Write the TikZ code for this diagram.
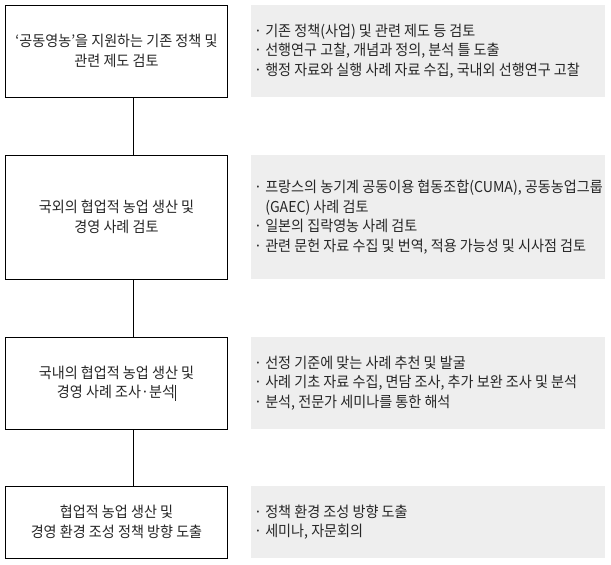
\documentclass[tikz,border=0pt]{standalone}
\usepackage{fontspec}
\setmainfont{Noto Sans CJK KR}[FakeStretch=0.94]
\definecolor{txt}{HTML}{262626}
\definecolor{grayfill}{HTML}{EEEEEE}
\tikzset{
  stepbox/.style={draw=black, line width=1pt, fill=white, minimum width=222.5pt, inner sep=0pt, align=center, text=txt, font=\fontsize{15}{19.5}\selectfont},
  graybox/.style={fill=grayfill, draw=none, minimum width=354pt, inner sep=0pt, anchor=north west},
  graytext/.style={anchor=west, align=left, inner sep=0pt, text=txt, font=\fontsize{15}{19.5}\selectfont},
  link/.style={draw=black, line width=1pt}
}
\begin{document}
\begin{tikzpicture}[x=1pt,y=-1pt]
\useasboundingbox (0,0) rectangle (611,565);
% step boxes
\node[stepbox, minimum height=92pt]  (b1) at (116.5,51)  {‘공동영농’을 지원하는 기존 정책 및\\관련 제도 검토};
\node[stepbox, minimum height=124pt] (b2) at (116.5,217) {국외의 협업적 농업 생산 및\\경영 사례 검토};
\node[stepbox, minimum height=92pt]  (b3) at (116.5,383) {국내의 협업적 농업 생산 및\\경영 사례 조사·분석\rule[-3pt]{1pt}{15.5pt}};
\node[stepbox, minimum height=72pt]  (b4) at (116.5,522) {협업적 농업 생산 및\\경영 환경 조성 정책 방향 도출};
% connectors
\coordinate (cx) at (133,0);
\draw[link] (b1.south -| cx) -- (b2.north -| cx);
\draw[link] (b2.south -| cx) -- (b3.north -| cx);
\draw[link] (b3.south -| cx) -- (b4.north -| cx);
% gray boxes
\node[graybox, minimum height=92pt]  (g1) at (251,5)   {};
\node[graybox, minimum height=124pt] (g2) at (251,155) {};
\node[graybox, minimum height=92pt]  (g3) at (251,337) {};
\node[graybox, minimum height=72pt]  (g4) at (251,486) {};
\node[graytext] (t1) at ([xshift=3pt]g1.west) {· 기존 정책(사업) 및 관련 제도 등 검토\\· 선행연구 고찰, 개념과 정의, 분석 틀 도출\\· 행정 자료와 실행 사례 자료 수집, 국내외 선행연구 고찰};
\node[graytext] (t2) at ([xshift=3pt]g2.west) {· 프랑스의 농기계 공동이용 협동조합(CUMA), 공동농업그룹\\\phantom{·} (GAEC) 사례 검토\\· 일본의 집락영농 사례 검토\\· 관련 문헌 자료 수집 및 번역, 적용 가능성 및 시사점 검토};
\node[graytext] (t3) at ([xshift=3pt]g3.west) {· 선정 기준에 맞는 사례 추천 및 발굴\\· 사례 기초 자료 수집, 면담 조사, 추가 보완 조사 및 분석\\· 분석, 전문가 세미나를 통한 해석};
\node[graytext] (t4) at ([xshift=3pt]g4.west) {· 정책 환경 조성 방향 도출\\· 세미나, 자문회의};
\end{tikzpicture}
\end{document}
